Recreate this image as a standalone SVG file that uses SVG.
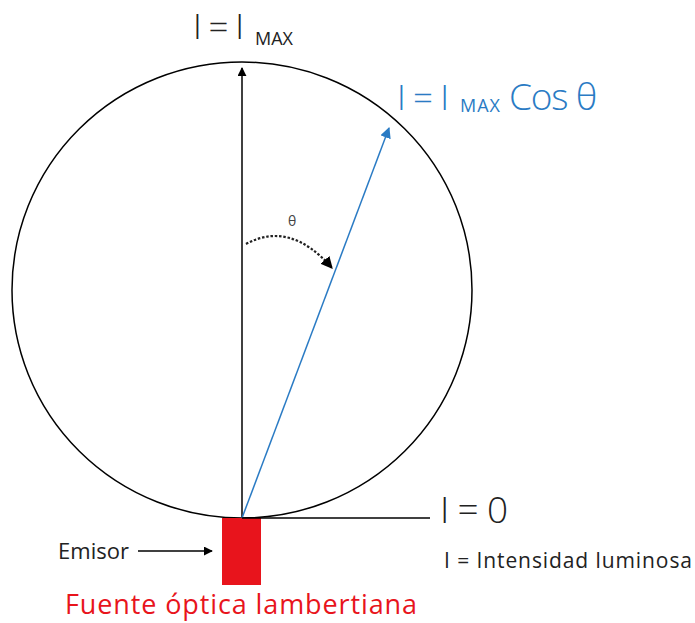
<svg xmlns="http://www.w3.org/2000/svg" width="695" height="623" viewBox="0 0 695 623">
<style>
text{font-family:"Open Sans","Liberation Sans",sans-serif}
.big{font-weight:300}
.k{fill:#222}
.b{fill:#2a7bc4}
.r{fill:#e8141c}
</style>
<defs>
<marker id="ak" viewBox="0 0 10 10" refX="9" refY="5" markerWidth="9" markerHeight="9" markerUnits="userSpaceOnUse" orient="auto"><path d="M0,0L10,5L0,10z" fill="#000"/></marker>
<marker id="ab" viewBox="0 0 10 10" refX="9" refY="5" markerWidth="11" markerHeight="11" markerUnits="userSpaceOnUse" orient="auto"><path d="M0,0L10,5L0,10z" fill="#2a7bc4"/></marker>
<marker id="ad" viewBox="0 0 10 10" refX="9" refY="5" markerWidth="12" markerHeight="12" markerUnits="userSpaceOnUse" orient="auto"><path d="M0,0L10,5L0,10z" fill="#000"/></marker>
</defs>
<rect width="695" height="623" fill="#fff"/>
<g id="lobe"><ellipse cx="242" cy="290" rx="230" ry="228" fill="none" stroke="#000" stroke-width="1.5"/></g>
<g id="emitter"><rect x="222" y="518" width="39" height="67" fill="#e8141c"/></g>
<g id="connectors" fill="none">
<line x1="242" y1="518" x2="242" y2="68" stroke="#000" stroke-width="1.5" marker-end="url(#ak)"/>
<line x1="242" y1="518" x2="389" y2="128" stroke="#2a7bc4" stroke-width="1.5" marker-end="url(#ab)"/>
<line x1="242" y1="518" x2="430" y2="518" stroke="#000" stroke-width="1.5"/>
<path d="M246,244 Q290,220 332,268" stroke="#222" stroke-width="2.2" stroke-dasharray="2.5,1.8" marker-end="url(#ad)"/>
<line x1="138" y1="551" x2="212" y2="551" stroke="#000" stroke-width="1.5" marker-end="url(#ak)"/>
</g>
<g id="labels">
<text class="k big" x="193" y="39" font-size="35" textLength="51">I = I</text>
<text class="k" x="255" y="45" font-size="18" textLength="38">MAX</text>
<text class="b big" x="397" y="110" font-size="35" textLength="52">I = I</text>
<text class="b" x="460" y="112" font-size="18" textLength="40">MAX</text>
<text class="b big" x="509" y="110" font-size="37" textLength="88">Cos θ</text>
<text x="288" y="226" font-size="14" fill="#444">θ</text>
<text class="k big" x="440" y="523" font-size="37" textLength="68">I = 0</text>
<text class="k" x="444" y="568" font-size="21" textLength="248">I = Intensidad luminosa</text>
<text class="k" x="58" y="559" font-size="22" textLength="71">Emisor</text>
<text class="r" x="65" y="614" font-size="27" textLength="352">Fuente óptica lambertiana</text>
</g>
</svg>
